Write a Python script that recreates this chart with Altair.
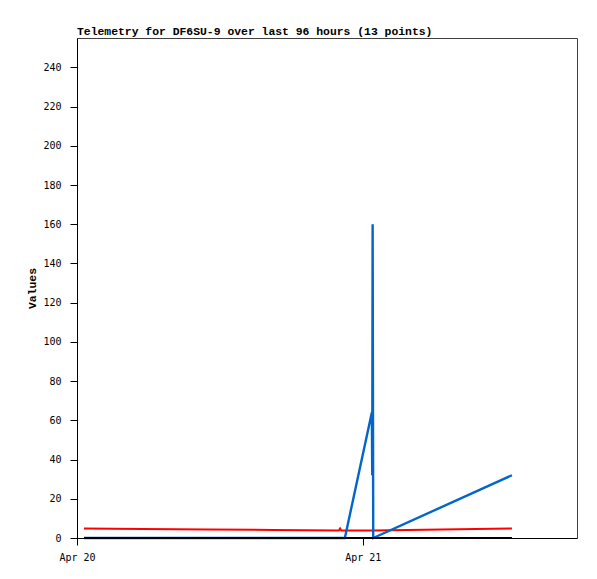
import altair as alt
import pandas as pd

# 13 telemetry packets (UTC)
times = [
    "2024-04-20T00:35:00Z", "2024-04-20T05:30:00Z", "2024-04-20T11:00:00Z",
    "2024-04-20T16:30:00Z", "2024-04-20T22:00:00Z", "2024-04-20T22:06:00Z",
    "2024-04-20T22:12:00Z", "2024-04-20T22:30:00Z", "2024-04-21T00:46:00Z",
    "2024-04-21T00:48:00Z", "2024-04-21T00:50:00Z", "2024-04-21T00:53:00Z",
    "2024-04-21T12:32:00Z",
]
red_values = [4.85, 4.62, 4.36, 4.11, 3.85, 4.9, 3.85, 3.85, 3.85, 3.85, 3.85, 3.8, 4.85]
blue_values = [0, 0, 0, 0, 0, 0, 0, 0, 64, 32, 160, 0, 32]
black_values = [0] * 13

series_names = ["red", "blue", "black"]
series_colors = {"red": "#ff0000", "blue": "#0066cc", "black": "#000000"}
y_ticks = list(range(0, 241, 20))

rows = []
for name, vals in zip(series_names, [red_values, blue_values, black_values]):
    for t, v in zip(times, vals):
        rows.append({"t": t, "value": v, "series": name})
df = pd.DataFrame(rows)

x_enc = alt.X(
    "t:T",
    scale=alt.Scale(
        type="utc",
        domain=[
            alt.DateTime(year=2024, month=4, date=20, hours=0, utc=True),
            alt.DateTime(year=2024, month=4, date=21, hours=18, utc=True),
        ],
    ),
    axis=alt.Axis(
        values=[
            alt.DateTime(year=2024, month=4, date=20, hours=0, utc=True),
            alt.DateTime(year=2024, month=4, date=21, hours=0, utc=True),
        ],
        labelExpr="utcFormat(datum.value, '%b %d')",
        title=None,
        grid=False,
        domainColor="#000000",
        tickColor="#000000",
        tickSize=7,
        labelPadding=7,
        labelFont="DejaVu Sans Mono",
        labelFontSize=10,
        labelColor="#000000",
        labelFlush=False,
    ),
)
y_enc = alt.Y(
    "value:Q",
    scale=alt.Scale(domain=[0, 255], nice=False, zero=True),
    axis=alt.Axis(
        values=y_ticks,
        title="Values",
        titleFont="Liberation Mono",
        titleFontSize=11.4,
        titleFontWeight="bold",
        titleColor="#000000",
        titleX=-45,
        titleY=250,
        titleAngle=-90,
        titleAlign="center",
        titleBaseline="middle",
        grid=False,
        domainColor="#000000",
        tickColor="#000000",
        tickSize=7,
        labelPadding=9,
        labelFont="DejaVu Sans Mono",
        labelFontSize=10,
        labelColor="#000000",
    ),
)

layers = []
for name in series_names:
    layers.append(
        alt.Chart(df)
        .transform_filter(alt.datum.series == name)
        .mark_line(color=series_colors[name], strokeWidth=2.4 if name == "blue" else 2)
        .encode(x=x_enc, y=y_enc)
    )

chart = (
    alt.layer(*layers)
    .properties(
        width=500,
        height=500,
        autosize=alt.AutoSizeParams(type="none"),
        padding={"left": 69, "top": 30, "right": 12, "bottom": 33},
        title=alt.TitleParams(
            "Telemetry for DF6SU-9 over last 96 hours (13 points)",
            anchor="start",
            frame="group",
            font="Liberation Mono",
            fontSize=11.4,
            fontWeight="bold",
            color="#000000",
            offset=1,
        ),
    )
    .configure_view(stroke="#404040", strokeWidth=1)
)

chart.save("out.html", embed_options={"renderer": "svg", "actions": False})
